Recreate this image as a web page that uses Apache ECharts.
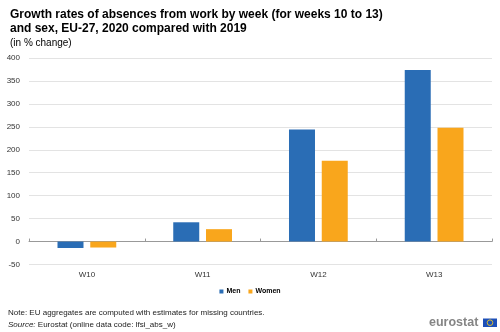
<!DOCTYPE html>
<html><head><meta charset="utf-8">
<script src="https://cdn.jsdelivr.net/npm/echarts@6/dist/echarts.min.js"></script>
<style>html,body{margin:0;padding:0;background:#fff}#c{width:500px;height:332px}</style>
</head><body><div id="c"></div>
<script>
var categories = ['W10', 'W11', 'W12', 'W13'];
var men = [-14, 42, 244, 374];
var women = [-13, 27, 176, 248];
var seriesNames = ['Men', 'Women'];
var yTicks = { min: -50, max: 400, interval: 50 };

var font = 'Liberation Sans, Arial, sans-serif';
var chart = echarts.init(document.getElementById('c'), null, { renderer: 'canvas' });
chart.setOption({
  animation: false,
  backgroundColor: '#fff',
  title: [
    { text: 'Growth rates of absences from work by week (for weeks 10 to 13)\nand sex, EU-27, 2020 compared with 2019', left: 5, top: 3,
      textStyle: { fontFamily: font, fontSize: 12, fontWeight: 'bold', color: '#000', lineHeight: 14 } },
    { text: '(in % change)', left: 5, top: 33, textStyle: { fontFamily: font, fontSize: 10, fontWeight: 'normal', color: '#000' } }
  ],
  legend: {
    data: seriesNames, bottom: 32, left: 'center', itemWidth: 4, itemHeight: 4, itemGap: 8,
    icon: 'rect', textStyle: { fontFamily: font, fontSize: 7, fontWeight: 'bold', color: '#000', padding: [0, 0, 0, -2] }
  },
  grid: { left: 29, right: 8, top: 58, bottom: 67.5 },
  xAxis: [
    { type: 'category', data: categories, position: 'bottom', axisLine: { show: false, onZero: false },
      axisTick: { show: false }, axisLabel: { fontFamily: font, fontSize: 8, color: '#333', margin: 6 } },
    { type: 'category', data: categories, axisLine: { onZero: true, lineStyle: { color: '#999', width: 1 } },
      axisTick: { show: true, length: 3, lineStyle: { color: '#999' } }, axisLabel: { show: false } }
  ],
  yAxis: {
    type: 'value', min: yTicks.min, max: yTicks.max, interval: yTicks.interval,
    axisLine: { show: false }, axisTick: { show: false },
    axisLabel: { fontFamily: font, fontSize: 8, color: '#333', margin: 9 },
    splitLine: { lineStyle: { color: '#e3e3e3', width: 1 } }
  },
  series: [
    { name: seriesNames[0], type: 'bar', data: men, barWidth: 26, barGap: '26%', itemStyle: { color: '#2A6DB5' } },
    { name: seriesNames[1], type: 'bar', data: women, barWidth: 26, itemStyle: { color: '#F9A61C' } }
  ],
  graphic: [
    { type: 'text', left: 8, top: 309, style: { text: 'Note: EU aggregates are computed with estimates for missing countries.', font: '8px ' + font, fill: '#222' } },
    { type: 'text', left: 8, top: 321, style: { text: '{i|Source:} Eurostat (online data code: lfsi_abs_w)', font: '8px ' + font, fill: '#222', rich: { i: { fontStyle: 'italic', fontSize: 8, fontFamily: font } } } },
    { type: 'text', left: 429, top: 316, style: { text: 'eurostat', font: 'bold 12.5px ' + font, fill: '#858585' } },
    { type: 'rect', shape: { x: 483, y: 318.5, width: 14, height: 8.5 }, style: { fill: '#1D4FB8' } },
    { type: 'circle', shape: { cx: 490, cy: 322.7, r: 2.8 }, style: { fill: 'none', stroke: '#FFD617', lineWidth: 0.8 } }
  ]
});
</script></body></html>
